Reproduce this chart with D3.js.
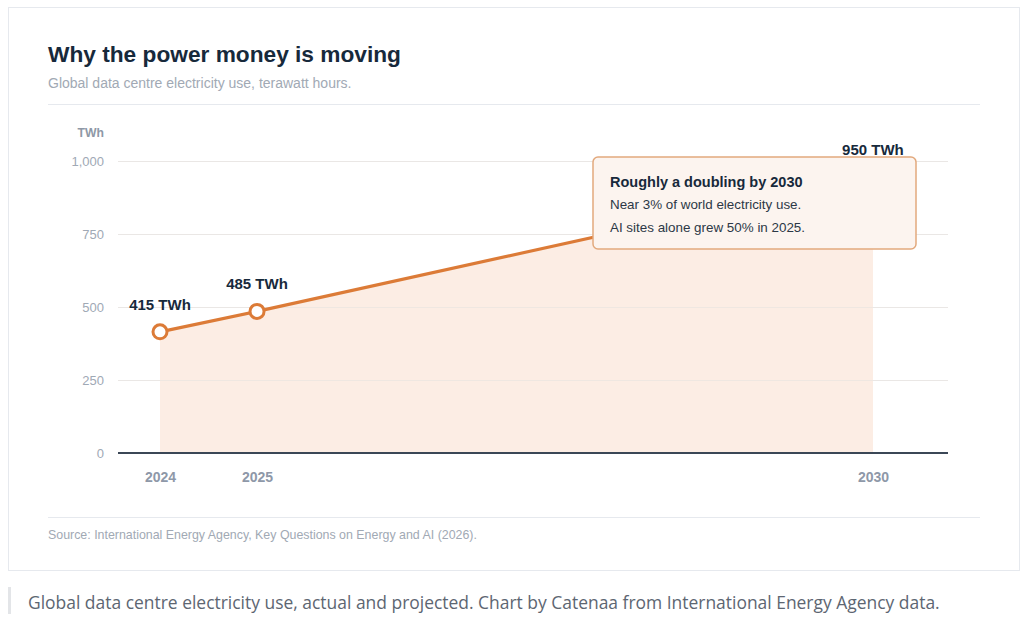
<!DOCTYPE html>
<html>
<head>
<meta charset="utf-8">
<script src="https://cdn.jsdelivr.net/npm/d3@7"></script>
<style>
  html, body { margin: 0; padding: 0; background: #ffffff; }
  svg { display: block; }
</style>
</head>
<body>
<svg id="chart" width="1024" height="638"></svg>
<script>
// ---- data ----
const years = [2024, 2025, 2030];
const twh = [415, 485, 950];
const pointLabels = ["415 TWh", "485 TWh", "950 TWh"];
const yTicks = [0, 250, 500, 750, 1000];
const xTickLabels = ["2024", "2025", "2030"];
const titleText = "Why the power money is moving";
const subtitleText = "Global data centre electricity use, terawatt hours.";
const unitText = "TWh";
const noteTitle = "Roughly a doubling by 2030";
const noteLines = ["Near 3% of world electricity use.", "AI sites alone grew 50% in 2025."];
const sourceText = "Source: International Energy Agency, Key Questions on Energy and AI (2026).";
const captionText = "Global data centre electricity use, actual and projected. Chart by Catenaa from International Energy Agency data.";

// ---- layout ----
const svg = d3.select("#chart");
const FONT = "'Liberation Sans', Arial, Helvetica, sans-serif";
const plot = { left: 118, right: 948, top: 161, bottom: 453 };
const W = plot.right - plot.left;

// card
svg.append("rect").attr("x", 8.5).attr("y", 7.5).attr("width", 1011).attr("height", 563)
  .attr("fill", "#ffffff").attr("stroke", "#e6e9ee").attr("stroke-width", 1);

svg.append("text").attr("x", 48).attr("y", 62).text(titleText)
  .attr("font-family", FONT).attr("font-weight", "bold").attr("font-size", 22.7).attr("fill", "#17293b");
svg.append("text").attr("x", 48).attr("y", 88).text(subtitleText)
  .attr("font-family", FONT).attr("font-size", 14).attr("fill", "#a1a9b4");
svg.append("line").attr("x1", 48).attr("x2", 980).attr("y1", 104.5).attr("y2", 104.5)
  .attr("stroke", "#e6e9ee").attr("stroke-width", 1);

// scales
const x = d3.scaleLinear().domain(years)
  .range([plot.left + W * 0.0506, plot.left + W * 0.1675, plot.left + W * 0.9096]);
const y = d3.scaleLinear().domain([0, 1000]).range([plot.bottom, plot.top]);

const data = years.map((yr, i) => ({ year: yr, v: twh[i], label: pointLabels[i] }));

// gridlines + y labels
const yAxis = d3.axisLeft(y).tickValues(yTicks).tickSize(-W).tickFormat(d3.format(","));
const gy = svg.append("g").attr("transform", `translate(${plot.left},0)`).call(yAxis);
gy.select(".domain").remove();
gy.selectAll(".tick line").attr("stroke", "#eceef2").attr("stroke-width", 1);
gy.selectAll(".tick text").attr("x", -14).attr("font-family", FONT).attr("font-size", 13)
  .attr("fill", "#a0a9b5");

svg.append("text").attr("x", 104).attr("y", 137).attr("text-anchor", "end").text(unitText)
  .attr("font-family", FONT).attr("font-weight", "bold").attr("font-size", 12.2).attr("fill", "#8e98a6");

// area
const area = d3.area().x(d => x(d.year)).y0(y(0)).y1(d => y(d.v));
svg.append("path").datum(data).attr("d", area).attr("fill", "#fcede4");

// redraw gridlines lightly over the area
const gy2 = svg.append("g").attr("transform", `translate(${plot.left},0)`)
  .call(d3.axisLeft(y).tickValues(yTicks.filter(t => t > 0)).tickSize(-W).tickFormat(""));
gy2.select(".domain").remove();
gy2.selectAll(".tick line").attr("stroke", "#e9e4e0").attr("stroke-width", 1).attr("stroke-opacity", 0.7);

// baseline
svg.append("line").attr("x1", plot.left).attr("x2", plot.right).attr("y1", y(0)).attr("y2", y(0))
  .attr("stroke", "#3b4756").attr("stroke-width", 2);

// x axis labels
const xAxis = d3.axisBottom(x).tickValues(years).tickSize(0).tickFormat((d, i) => xTickLabels[i]);
const gx = svg.append("g").attr("transform", `translate(0,${y(0)})`).call(xAxis);
gx.select(".domain").remove();
gx.selectAll(".tick text").attr("dy", 0).attr("y", 29).attr("font-family", FONT)
  .attr("font-weight", "bold").attr("font-size", 14).attr("fill", "#8e98a8");

// line
const line = d3.line().x(d => x(d.year)).y(d => y(d.v));
svg.append("path").datum(data).attr("d", line).attr("fill", "none")
  .attr("stroke", "#dc7b37").attr("stroke-width", 3.2).attr("stroke-linejoin", "round");

// markers for actual years
svg.selectAll("circle.pt").data(data.slice(0, 2)).enter().append("circle")
  .attr("class", "pt").attr("cx", d => x(d.year)).attr("cy", d => y(d.v)).attr("r", 7)
  .attr("fill", "#ffffff").attr("stroke", "#dc7b37").attr("stroke-width", 3);

// value labels
const labelOffsets = [-22, -22, -21];
svg.selectAll("text.vl").data(data).enter().append("text").attr("class", "vl")
  .attr("x", d => x(d.year)).attr("y", (d, i) => y(d.v) + labelOffsets[i])
  .attr("text-anchor", "middle").text(d => d.label)
  .attr("font-family", FONT).attr("font-weight", "bold").attr("font-size", 15).attr("fill", "#17293b");

// annotation box
const box = { x: 593, y: 157, w: 323, h: 92 };
svg.append("rect").attr("x", box.x).attr("y", box.y).attr("width", box.w).attr("height", box.h)
  .attr("rx", 5).attr("fill", "#fcf4ef").attr("stroke", "#e2a97d").attr("stroke-width", 1.5);
svg.append("text").attr("x", box.x + 17).attr("y", box.y + 30).text(noteTitle)
  .attr("font-family", FONT).attr("font-weight", "bold").attr("font-size", 14.5).attr("fill", "#17293b");
svg.selectAll("text.nl").data(noteLines).enter().append("text").attr("class", "nl")
  .attr("x", box.x + 17).attr("y", (d, i) => box.y + 52 + i * 23).text(d => d)
  .attr("font-family", FONT).attr("font-size", 13.4).attr("fill", "#2c3846");

// footer
svg.append("line").attr("x1", 48).attr("x2", 980).attr("y1", 517.5).attr("y2", 517.5)
  .attr("stroke", "#e6e9ee").attr("stroke-width", 1);
svg.append("text").attr("x", 48).attr("y", 539).text(sourceText)
  .attr("font-family", FONT).attr("font-size", 12.4).attr("fill", "#a1a9b4");

// caption
svg.append("rect").attr("x", 8).attr("y", 587).attr("width", 3).attr("height", 27).attr("fill", "#e3e5e8");
svg.append("text").attr("x", 28).attr("y", 609).text(captionText)
  .attr("font-family", "'Open Sans', 'Noto Sans', sans-serif").attr("font-size", 17.45).attr("fill", "#5d6672");
</script>
</body>
</html>
